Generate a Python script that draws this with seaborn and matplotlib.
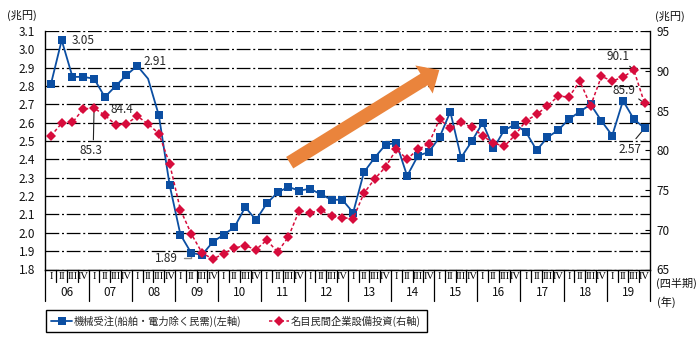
import numpy as np
import pandas as pd
import matplotlib
matplotlib.use("Agg")
import matplotlib.pyplot as plt
import seaborn as sns
from matplotlib.transforms import IdentityTransform
from matplotlib.patches import FancyArrow
from matplotlib.lines import Line2D

# ---------------- data ----------------
years = ['06', '07', '08', '09', '10', '11', '12', '13', '14', '15', '16', '17', '18', '19']
quarter_names = ['I', 'II', 'III', 'IV']

# 機械受注（船舶・電力除く民需）(兆円, 左軸)
machinery_orders = [
    2.81, 3.05, 2.85, 2.85,   # 06
    2.84, 2.74, 2.80, 2.86,   # 07
    2.91, 2.84, 2.64, 2.26,   # 08
    1.99, 1.89, 1.88, 1.95,   # 09
    1.99, 2.03, 2.14, 2.07,   # 10
    2.16, 2.22, 2.25, 2.23,   # 11
    2.24, 2.21, 2.18, 2.18,   # 12
    2.11, 2.33, 2.41, 2.48,   # 13
    2.49, 2.31, 2.42, 2.44,   # 14
    2.52, 2.66, 2.41, 2.50,   # 15
    2.60, 2.46, 2.56, 2.59,   # 16
    2.55, 2.45, 2.52, 2.56,   # 17
    2.62, 2.66, 2.70, 2.61,   # 18
    2.53, 2.72, 2.62, 2.57,   # 19
]

# 名目民間企業設備投資 (兆円, 右軸)
capex = [
    81.8, 83.4, 83.5, 85.2,   # 06
    85.3, 84.4, 83.2, 83.3,   # 07
    84.3, 83.3, 82.1, 78.3,   # 08
    72.5, 69.5, 67.1, 66.3,   # 09
    67.0, 67.7, 68.0, 67.5,   # 10
    68.7, 67.2, 69.1, 72.4,   # 11
    72.1, 72.5, 71.7, 71.5,   # 12
    71.4, 74.6, 76.4, 77.9,   # 13
    80.1, 78.9, 80.1, 80.8,   # 14
    83.9, 82.8, 83.5, 82.9,   # 15
    81.8, 80.9, 80.5, 81.9,   # 16
    83.7, 84.5, 85.6, 86.8,   # 17
    86.7, 88.7, 85.6, 89.3,   # 18
    88.7, 89.2, 90.1, 85.9,   # 19
]

left_ticks = [1.8, 1.9, 2.0, 2.1, 2.2, 2.3, 2.4, 2.5, 2.6, 2.7, 2.8, 2.9, 3.0, 3.1]
right_ticks = [65, 70, 75, 80, 85, 90, 95]

label_orders = '機械受注(船舶・電力除く民需)(左軸)'
label_capex = '名目民間企業設備投資(右軸)'

# ---------------- style ----------------
sns.set_style('white')
plt.rcParams['font.family'] = ['Noto Sans CJK JP', 'DejaVu Sans']

BLUE = '#0B4EA2'
RED = '#D70C3C'
ORANGE = '#EA843C'

W, H = 698, 338
fig = plt.figure(figsize=(W / 100, H / 100), dpi=100)
fig.patch.set_facecolor('white')

L, R, T, B = 45.5, 650.0, 31.0, 269.5
ax = fig.add_axes([L / W, (H - B) / H, (R - L) / W, (B - T) / H])
ax2 = ax.twinx()
ax.patch.set_alpha(0)
ax2.patch.set_alpha(0)

n = len(machinery_orders)
df = pd.DataFrame({
    'pos': np.arange(n) + 0.5,
    'orders': machinery_orders,
    'capex': capex,
})

sns.lineplot(data=df, x='pos', y='orders', ax=ax, color=BLUE, lw=1.3,
             marker='s', markersize=5.3, markeredgewidth=0,
             markevery=[i for i in range(n) if i != 9], zorder=5)
sns.lineplot(data=df, x='pos', y='capex', ax=ax2, color=RED, lw=1.1,
             linestyle=(0, (2.2, 1.6)), marker='D', markersize=4.6,
             markeredgewidth=0, zorder=5)

ax.set_xlim(0, n)
ax.set_ylim(1.8, 3.1)
ax2.set_ylim(65, 95)
for a in (ax, ax2):
    a.set_xlabel('')
    a.set_ylabel('')
ax.set_xticks([])

# grid (dash-dot)
ax.set_yticks(left_ticks)
ax.set_yticklabels([f'{v:.1f}' for v in left_ticks])
ax.yaxis.grid(True, color='black', lw=0.9, linestyle=(0, (11, 2.2, 1.6, 2.2)))
ax.xaxis.grid(False)
ax2.grid(False)
ax.tick_params(axis='y', length=0, pad=7.5, labelsize=8.5, labelcolor='#111')

ax2.set_yticks(right_ticks)
ax2.tick_params(axis='y', direction='in', length=3.5, width=0.8, pad=4.8,
                labelsize=8.5, labelcolor='#111', color='black')

for s in ('top', 'right'):
    ax.spines[s].set_visible(False)
for s in ('left', 'bottom'):
    ax.spines[s].set_color('black')
    ax.spines[s].set_linewidth(1.0)
for s in ('left', 'top', 'bottom'):
    ax2.spines[s].set_visible(False)
ax2.spines['right'].set_color('black')
ax2.spines['right'].set_linewidth(1.0)

# ---------------- quarter / year table below axis ----------------
trans = ax.get_xaxis_transform()
ah = B - T
for k in range(0, n + 1):
    y0 = -31.0 / ah if k % 4 == 0 else -12.5 / ah
    ax.plot([k, k], [0, y0], transform=trans, color='black', lw=0.9,
            clip_on=False, zorder=1)
for i in range(n):
    ax.text(i + 0.5, -6.8 / ah, quarter_names[i % 4], transform=trans,
            ha='center', va='center', fontsize=7.6, color='black',
            family=['Liberation Serif', 'DejaVu Serif'])
for j, yr in enumerate(years):
    ax.text(4 * j + 2, -22.5 / ah, yr, transform=trans,
            ha='center', va='center', fontsize=8.5, color='#111')

fig.text(656 / W, 1 - 283.5 / H, '(四半期)', ha='left', va='center', fontsize=8, color='#111')
fig.text(656.5 / W, 1 - 302 / H, '(年)', ha='left', va='center', fontsize=8, color='#111')
fig.text(7 / W, 1 - 15 / H, '(兆円)', ha='left', va='center', fontsize=8, color='#111')
fig.text(655 / W, 1 - 16.5 / H, '(兆円)', ha='left', va='center', fontsize=8, color='#111')

# ---------------- orange trend arrow ----------------
tail = (289.7, H - 162.7)
tip = (439.3, H - 70.0)
arrow = FancyArrow(tail[0], tail[1], tip[0] - tail[0], tip[1] - tail[1],
                   width=13.5, head_width=33, head_length=18,
                   length_includes_head=True, color=ORANGE, lw=0,
                   transform=IdentityTransform(), zorder=3)
ax.add_patch(arrow)

# ---------------- annotations ----------------
fs = 8.5
ax.annotate('3.05', xy=(1.5, machinery_orders[1]), xytext=(10, 0),
            textcoords='offset pixels', ha='left', va='center', fontsize=fs)
ax.annotate('2.91', xy=(8.5, machinery_orders[8]), xytext=(6, 4),
            textcoords='offset pixels', ha='left', va='center', fontsize=fs)
ax2.annotate('84.4', xy=(5.5, capex[5]), xytext=(110.5, H - 109.5),
             textcoords='figure pixels', ha='left', va='center', fontsize=fs)
ax2.annotate('85.3', xy=(4.5, capex[4]), xytext=(91, H - 151),
             textcoords='figure pixels', ha='center', va='center', fontsize=fs,
             arrowprops=dict(arrowstyle='-', color='#222', lw=0.8,
                             relpos=(0.6, 1.0), shrinkA=1, shrinkB=0))
ax.annotate('1.89', xy=(13.5, machinery_orders[13]), xytext=(178, H - 258),
            textcoords='figure pixels', ha='right', va='center', fontsize=fs,
            arrowprops=dict(arrowstyle='-', color='#888', lw=1.0,
                            connectionstyle='angle,angleA=0,angleB=90,rad=0',
                            relpos=(1.0, 0.5), shrinkA=2, shrinkB=1))
ax2.annotate('90.1', xy=(54.5, capex[54]), xytext=(618, H - 56.5),
             textcoords='figure pixels', ha='center', va='center', fontsize=fs,
             arrowprops=dict(arrowstyle='-', color='#222', lw=0.8,
                             relpos=(0.85, 0.0), shrinkA=0, shrinkB=2))
ax2.annotate('85.9', xy=(55.5, capex[55]), xytext=(624, H - 90),
             textcoords='figure pixels', ha='center', va='center', fontsize=fs,
             arrowprops=dict(arrowstyle='-', color='#222', lw=0.8,
                             relpos=(1.0, 0.0), shrinkA=0, shrinkB=1))
ax.annotate('2.57', xy=(55.5, machinery_orders[55]), xytext=(630, H - 149.5),
            textcoords='figure pixels', ha='center', va='center', fontsize=fs,
            arrowprops=dict(arrowstyle='-', color='#222', lw=0.8,
                            relpos=(0.6, 1.0), shrinkA=1, shrinkB=1))

# ---------------- legend ----------------
h1 = Line2D([], [], color=BLUE, lw=1.3, marker='s', markersize=5.3, markeredgewidth=0)
h2 = Line2D([], [], color=RED, lw=1.1, linestyle=(0, (2.2, 1.6)), marker='D',
            markersize=4.6, markeredgewidth=0)
leg = fig.legend([h1, h2], [label_orders, label_capex], ncol=2,
                 loc='upper left', bbox_to_anchor=(45.7 / W, 1 - 310 / H),
                 frameon=True, fancybox=False, edgecolor='black', framealpha=1,
                 fontsize=7.4, handlelength=2.0, handletextpad=0.15,
                 columnspacing=2.7, borderpad=0.55, borderaxespad=0)
leg.get_frame().set_linewidth(1.0)

fig.savefig('out.png', dpi=100, facecolor='white')
